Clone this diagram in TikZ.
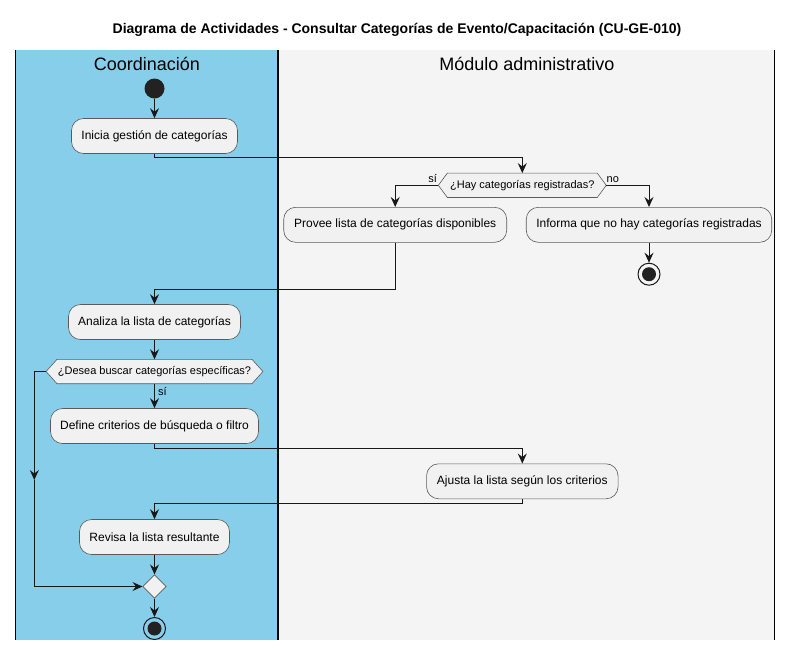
\documentclass[tikz,border=0pt]{standalone}
\usepackage{fontspec}
\setmainfont{Liberation Sans}
\usetikzlibrary{arrows.meta,shapes.geometric}
\definecolor{laneblue}{HTML}{87CEEB}
\definecolor{lanegray}{HTML}{F4F4F4}
\definecolor{actfill}{HTML}{F1F1F1}
\definecolor{actline}{HTML}{5A5A5A}
\definecolor{flow}{HTML}{181818}
\definecolor{startc}{HTML}{222222}
\tikzset{
  act/.style={draw=actline, line width=0.6pt, fill=actfill, rounded corners=12pt,
    minimum height=35pt, inner sep=0pt, align=center, font=\fontsize{12}{14}\selectfont},
  decbox/.style={inner sep=0pt, minimum height=24pt, font=\fontsize{11}{13}\selectfont},
  hexa/.style={draw=actline, line width=0.6pt, fill=actfill},
  flowline/.style={draw=flow, line width=1pt},
  arr/.style={flowline, -{Stealth[length=10pt, width=9pt, inset=3.5pt]}},
  lbl/.style={inner sep=0pt, font=\fontsize{11}{13}\selectfont},
  lane/.style={draw=black, line width=1.4pt},
  lanetitle/.style={font=\fontsize{18}{20}\selectfont},
  startnode/.style={circle, fill=startc, minimum size=20pt, inner sep=0pt},
  endring/.style={circle, draw=flow, line width=1pt, minimum size=22pt, inner sep=0pt},
  enddot/.style={circle, fill=startc, minimum size=14pt, inner sep=0pt},
  merge/.style={diamond, draw=actline, line width=0.6pt, fill=actfill, minimum width=23.5pt, minimum height=23.5pt, inner sep=0pt},
}
\begin{document}
\begin{tikzpicture}[x=1pt, y=-1pt]
\useasboundingbox (0,0) rectangle (794,651);
\fill[white] (0,0) rectangle (794,651);
% lanes
\fill[laneblue] (15.5,50) rectangle (278,640);
\fill[lanegray] (278,50) rectangle (774.5,640);
\draw[lane] (15.5,50) -- (15.5,640);
\draw[lane] (278,50) -- (278,640);
\draw[lane] (774.5,50) -- (774.5,640);
% title
\node[font=\bfseries\fontsize{14}{16}\selectfont] (title) at (397,30) {Diagrama de Actividades - Consultar Categorías de Evento/Capacitación (CU-GE-010)};
\node[lanetitle] (t1) at (147,64) {Coordinación};
\node[lanetitle] (t2) at (527,64) {Módulo administrativo};

% nodes
\node[startnode] (start) at (154.5,88.5) {};
\node[act, minimum width=166pt] (a1) at (154.5,136) {Inicia gestión de categorías};
\node[decbox, minimum width=167.5pt] (d1) at (522.3,185.3) {¿Hay categorías registradas?};
\draw[hexa] (d1.west) -- ([xshift=9pt]d1.north west) -- ([xshift=-9pt]d1.north east) -- (d1.east) -- ([xshift=-9pt]d1.south east) -- ([xshift=9pt]d1.south west) -- cycle;
\node[decbox] at (d1.center) {¿Hay categorías registradas?};
\node[act, minimum width=223pt] (a2) at (395.2,224.8) {Provee lista de categorías disponibles};
\node[act, minimum width=245.5pt] (a3) at (649,224.8) {Informa que no hay categorías registradas};
\node[endring] (e1) at (649,274.2) {};
\node[enddot] at (e1.center) {};
\node[act, minimum width=172pt] (a4) at (154.5,322) {Analiza la lista de categorías};
\node[decbox, minimum width=216.5pt] (d2) at (154.5,371.5) {¿Desea buscar categorías específicas?};
\draw[hexa] (d2.west) -- ([xshift=11pt]d2.north west) -- ([xshift=-11pt]d2.north east) -- (d2.east) -- ([xshift=-11pt]d2.south east) -- ([xshift=11pt]d2.south west) -- cycle;
\node[decbox] at (d2.center) {¿Desea buscar categorías específicas?};
\node[act, minimum width=208pt] (a5) at (154.5,426) {Define criterios de búsqueda o filtro};
\node[act, minimum width=191.5pt] (a6) at (522.3,481.3) {Ajusta la lista según los criterios};
\node[act, minimum width=150pt] (a7) at (154.5,537) {Revisa la lista resultante};
\node[merge] (m) at (154.5,586.5) {};
\node[endring] (e2) at (154.5,628.5) {};
\node[enddot] at (e2.center) {};

% coordinates for bends
\coordinate (c1) at (154.5,157.3);
\coordinate (c2) at (522.3,157.3);
\coordinate (c3) at (395.2,185.3);
\coordinate (c4) at (649,185.3);
\coordinate (c5) at (395.2,289.2);
\coordinate (c6) at (154.5,289.2);
\coordinate (c7) at (154.5,448.3);
\coordinate (c8) at (522.3,448.3);
\coordinate (c9) at (522.3,503.5);
\coordinate (c10) at (154.5,503.5);
\coordinate (c11) at (34.3,371.5);
\coordinate (c12) at (34.3,480);
\coordinate (c13) at (34.3,586.5);

% connectors
\draw[arr] (start) -- (a1);
\draw[arr] (a1.south) -- (c1) -- (c2) -- (d1.north);
\draw[arr] (d1.west) -- (c3) -- (a2.north);
\draw[arr] (d1.east) -- (c4) -- (a3.north);
\draw[arr] (a3.south) -- (e1.north);
\draw[arr] (a2.south) -- (c5) -- (c6) -- (a4.north);
\draw[arr] (a4.south) -- (d2.north);
\draw[arr] (d2.south) -- (a5.north);
\draw[arr] (a5.south) -- (c7) -- (c8) -- (a6.north);
\draw[arr] (a6.south) -- (c9) -- (c10) -- (a7.north);
\draw[arr] (d2.west) -- (c11) -- (c12);
\draw[arr] (c12) -- (c13) -- (m.west);
\draw[arr] (a7.south) -- (m.north);
\draw[arr] (m.south) -- (e2.north);

% labels
\node[lbl, anchor=base east] (l1) at (437,182.8) {sí};
\node[lbl, anchor=base west] (l2) at (606.5,182.8) {no};
\node[lbl, anchor=base west] (l3) at (158,395) {sí};
\end{tikzpicture}
\end{document}
